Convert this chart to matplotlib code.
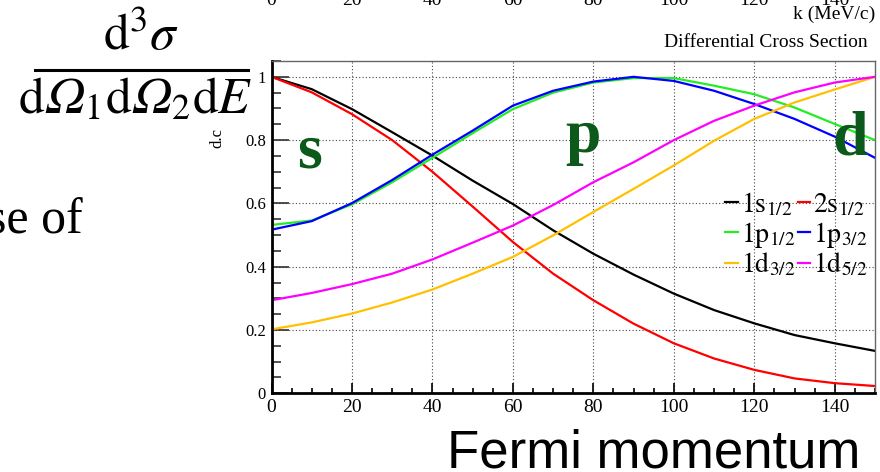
import numpy as np
import matplotlib.pyplot as plt
from matplotlib.ticker import MultipleLocator
from matplotlib.lines import Line2D
from matplotlib.transforms import blended_transform_factory

plt.rcParams['font.family'] = ['Liberation Serif', 'DejaVu Serif']
plt.rcParams['mathtext.fontset'] = 'stix'

# momentum k (MeV/c) and normalised differential cross section per orbital
k_mev = [0, 10, 20, 30, 40, 50, 60, 70, 80, 90, 100, 110, 120, 130, 140, 150]
dc_1s12 = [1.0, 0.961, 0.898, 0.825, 0.751, 0.672, 0.598, 0.515, 0.441, 0.375,
           0.315, 0.263, 0.221, 0.184, 0.158, 0.134]
dc_2s12 = [1.0, 0.951, 0.882, 0.800, 0.700, 0.590, 0.478, 0.378, 0.294, 0.220,
           0.158, 0.110, 0.074, 0.047, 0.032, 0.023]
dc_1p12 = [0.532, 0.546, 0.597, 0.667, 0.744, 0.822, 0.898, 0.950, 0.982, 0.996,
           0.996, 0.972, 0.945, 0.903, 0.851, 0.800]
dc_1p32 = [0.517, 0.544, 0.601, 0.674, 0.754, 0.830, 0.909, 0.956, 0.985, 1.0,
           0.987, 0.956, 0.914, 0.867, 0.811, 0.744]
dc_1d32 = [0.202, 0.224, 0.252, 0.287, 0.328, 0.378, 0.431, 0.499, 0.573, 0.646,
           0.720, 0.798, 0.867, 0.919, 0.960, 1.0]
dc_1d52 = [0.294, 0.317, 0.345, 0.378, 0.423, 0.476, 0.530, 0.595, 0.667, 0.730,
           0.800, 0.861, 0.909, 0.951, 0.982, 1.0]

x_ticks = [0, 20, 40, 60, 80, 100, 120, 140]

series = [
    (dc_1s12, 'black', r'$\mathrm{1s}_{1/2}$'),
    (dc_2s12, '#ff0000', r'$\mathrm{2s}_{1/2}$'),
    (dc_1p12, '#22ee22', r'$\mathrm{1p}_{1/2}$'),
    (dc_1p32, '#0000ff', r'$\mathrm{1p}_{3/2}$'),
    (dc_1d32, '#ffc000', r'$\mathrm{1d}_{3/2}$'),
    (dc_1d52, '#ff00ff', r'$\mathrm{1d}_{5/2}$'),
]

W, H = 880, 472
fig = plt.figure(figsize=(W / 100, H / 100), dpi=100)
ax = fig.add_axes([271.5 / W, 1 - 393.3 / H, 603.5 / W, 332.3 / H])

handles = []
for vals, col, lab in series:
    ln, = ax.plot(k_mev, vals, color=col, lw=1.6, label=lab)
    handles.append(ln)

ax.set_xlim(0, 150)
ax.set_ylim(0, 1.05)
ax.xaxis.set_major_locator(MultipleLocator(20))
ax.xaxis.set_minor_locator(MultipleLocator(5))
ax.yaxis.set_major_locator(MultipleLocator(0.2))
ax.yaxis.set_minor_locator(MultipleLocator(0.05))
ax.set_yticks([0, 0.2, 0.4, 0.6, 0.8, 1.0], ['0', '0.2', '0.4', '0.6', '0.8', '1'])
ax.grid(True, which='major', ls=(0, (1, 2)), color='#444444', lw=0.8)

ax.tick_params(axis='x', which='major', direction='in', length=7, width=1.2,
               labelsize=14, pad=4)
ax.tick_params(axis='x', which='minor', direction='in', length=3.3, width=1.2)
ax.tick_params(axis='y', which='major', direction='in', length=12, width=1.2,
               labelsize=12, pad=4, color='#333333')
ax.tick_params(axis='y', which='minor', direction='in', length=6.5, width=1.2,
               color='#333333')
for side in ['left', 'bottom']:
    ax.spines[side].set_linewidth(2)
for side in ['top', 'right']:
    ax.spines[side].set_linewidth(1)
    ax.spines[side].set_color('#666666')

# shell labels
for lab, xx, yy in [('s', 9.5, 0.715), ('p', 77.3, 0.763), ('d', 143.8, 0.753)]:
    ax.text(xx, yy, lab, fontsize=46, fontweight='bold', color='#0b5a1c',
            ha='center', va='baseline')

order = [0, 2, 4, 1, 3, 5]
ax.legend([handles[i] for i in order], [series[i][2] for i in order], ncol=2,
          loc='upper right', bbox_to_anchor=(0.988, 0.61), frameon=False,
          fontsize=20, handlelength=0.45, handletextpad=0.1, columnspacing=0.1,
          labelspacing=0.05, borderpad=0, borderaxespad=0)

# top axis labels of the plot above (cut off)
tr = blended_transform_factory(ax.transData, fig.transFigure)
for t in x_ticks:
    fig.text(t, 1 - 5 / H, str(t), transform=tr, ha='center', va='baseline',
             fontsize=14)
fig.text(875 / W, 1 - 19 / H, 'k (MeV/c)', ha='right', va='baseline', fontsize=14)
fig.text(868 / W, 1 - 47 / H, 'Differential Cross Section', ha='right',
         va='baseline', fontsize=14)
fig.text(217 / W, 1 - 138 / H, 'd.c', rotation=90, ha='center', va='center',
         fontsize=12)

# slide text around the plot
omega = '\U0001D6FA'
fig.text(141.5 / W, 1 - 50 / H, r'$\mathrm{d}^3\sigma$', ha='center',
         va='baseline', fontsize=37)
fig.add_artist(Line2D([35 / W, 248 / W], [1 - 70 / H, 1 - 70 / H], color='black',
                      lw=2.2))
fig.text(135 / W, 1 - 113 / H,
         '$\\mathrm{d}' + omega + '_1\\mathrm{d}' + omega + '_2\\mathrm{d}E$',
         ha='center', va='baseline', fontsize=37)
fig.text(83 / W, 1 - 234 / H, 'se of', ha='right', va='baseline', fontsize=36)
fig.text(860 / W, 1 - 468 / H, 'Fermi momentum', ha='right', va='baseline',
         fontsize=38, family='Liberation Sans')

fig.savefig('out.png', dpi=100)
